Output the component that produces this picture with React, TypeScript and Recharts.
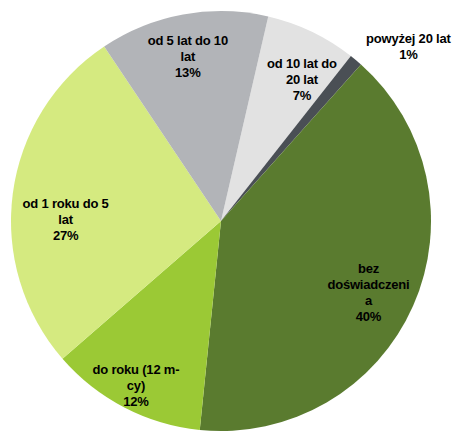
import React from 'react';
import { PieChart, Pie, Cell } from 'recharts';

// kategorie stażu pracy, w kolejności zgodnej z ruchem wskazówek zegara
const categories = [
  'od 10 lat do 20 lat',
  'powyżej 20 lat',
  'bez doświadczenia',
  'do roku (12 m-cy)',
  'od 1 roku do 5 lat',
  'od 5 lat do 10 lat'
];

const shares = [7, 1, 40, 12, 27, 13];

// etykiety łamane tak jak na oryginale
const labelLines = [
  ['od 10 lat do', '20 lat'],
  ['powyżej 20 lat'],
  ['bez', 'doświadczeni', 'a'],
  ['do roku (12 m-', 'cy)'],
  ['od 1 roku do 5', 'lat'],
  ['od 5 lat do 10', 'lat']
];

const colors = ['#e2e2e2', '#4a4f55', '#5a7b2f', '#9bc935', '#d5ea80', '#b2b4b8'];

// położenie etykiet: ułamek promienia i przesunięcie kąta (stopnie)
const labelPlacement = [
  { r: 0.78, da: -4 },
  { r: 1.22, da: -7 },
  { r: 0.78, da: -2 },
  { r: 0.88, da: 0 },
  { r: 0.74, da: 7 },
  { r: 0.8, da: 1 }
];

const data = categories.map((name, i) => ({ name, value: shares[i] }));

const RADIAN = Math.PI / 180;
const LINE_H = 16;

const renderLabel = (props: any) => {
  const { cx, cy, midAngle, outerRadius, index, value } = props;
  const p = labelPlacement[index];
  const angle = (midAngle + p.da) * RADIAN;
  const r = outerRadius * p.r;
  const x = cx + r * Math.cos(-angle);
  const y = cy + r * Math.sin(-angle);
  const lines = [...labelLines[index], `${value}%`];
  const startY = y - ((lines.length - 1) * LINE_H) / 2;

  return (
    <text
      x={x}
      y={startY}
      textAnchor="middle"
      dominantBaseline="central"
      fill="#000"
      fontFamily="'Liberation Sans', Arial, sans-serif"
      fontWeight="bold"
      fontSize={13}
      letterSpacing={-0.2}
    >
      {lines.map((line, i) => (
        <tspan key={i} x={x} y={startY + i * LINE_H}>
          {line}
        </tspan>
      ))}
    </text>
  );
};

const App: React.FC = () => {
  return (
    <div style={{ position: 'absolute', left: 0, top: 0, width: 459, height: 436, background: '#fff' }}>
      <PieChart width={459} height={436} margin={{ top: 0, right: 0, bottom: 0, left: 0 }}>
        <Pie
          data={data}
          dataKey="value"
          nameKey="name"
          cx={221}
          cy={221}
          outerRadius={210}
          startAngle={77}
          endAngle={-283}
          stroke="none"
          label={renderLabel}
          labelLine={false}
          isAnimationActive={false}
        >
          {data.map((entry, i) => (
            <Cell key={entry.name} fill={colors[i]} />
          ))}
        </Pie>
      </PieChart>
    </div>
  );
};

export default App;
